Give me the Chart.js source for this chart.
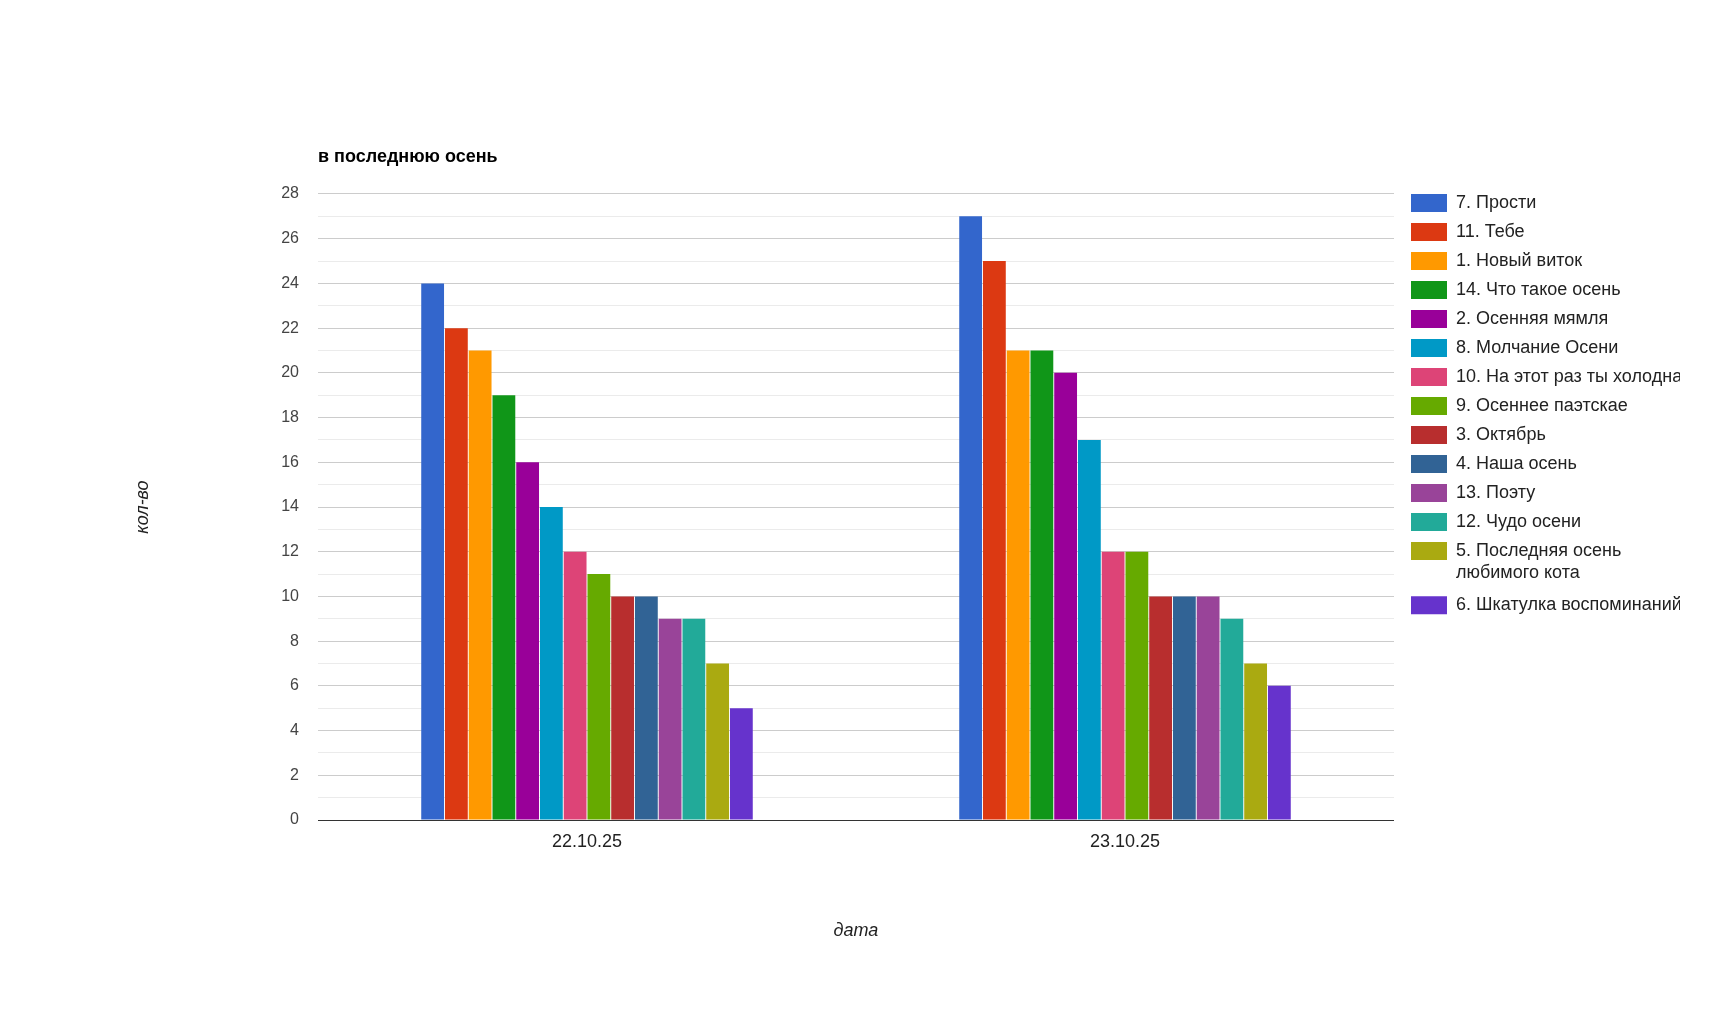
<!DOCTYPE html>
<html>
<head>
<meta charset="utf-8">
<script src="https://cdn.jsdelivr.net/npm/chart.js@4.4.1/dist/chart.umd.min.js"></script>
<style>
  html, body { margin: 0; padding: 0; background: #fff; }
  #wrap { width: 1711px; height: 1014px; }
</style>
</head>
<body>
<div id="wrap"><canvas id="chart" width="1711" height="1014"></canvas></div>
<script>
// categories on the x axis
const dates = ["22.10.25", "23.10.25"];

// one series per song, in legend order
const songs = [
  "7. Прости",
  "11. Тебе",
  "1. Новый виток",
  "14. Что такое осень",
  "2. Осенняя мямля",
  "8. Молчание Осени",
  "10. На этот раз ты холодна",
  "9. Осеннее паэтскае",
  "3. Октябрь",
  "4. Наша осень",
  "13. Поэту",
  "12. Чудо осени",
  "5. Последняя осень любимого кота",
  "6. Шкатулка воспоминаний",
];

// votes per song for each date
const day1 = [24, 22, 21, 19, 16, 14, 12, 11, 10, 10, 9, 9, 7, 5];
const day2 = [27, 25, 21, 21, 20, 17, 12, 12, 10, 10, 10, 9, 7, 6];

const colors = [
  "#3366cc", "#dc3912", "#ff9900", "#109618", "#990099", "#0099c6", "#dd4477",
  "#66aa00", "#b82e2e", "#316395", "#994499", "#22aa99", "#aaaa11", "#6633cc",
];

// y axis range
const yMin = 0;
const yMax = 28;
const yLabelStep = 2;

Chart.defaults.font.family = '"Liberation Sans", Arial, sans-serif';

// wrap long legend labels like the original does
const wrapLabel = (text, maxChars) => {
  if (text.length <= maxChars) return text;
  const lines = [];
  let line = "";
  for (const word of text.split(" ")) {
    const next = line ? line + " " + word : word;
    if (next.length > maxChars && line) {
      lines.push(line);
      line = word;
    } else {
      line = next;
    }
  }
  lines.push(line);
  return lines;
};

const datasets = songs.map((name, i) => ({
  label: name,
  data: [day1[i], day2[i]],
  backgroundColor: colors[i],
  borderWidth: 0,
  categoryPercentage: 0.618,
  barPercentage: 0.96,
}));

new Chart(document.getElementById("chart"), {
  type: "bar",
  data: { labels: dates, datasets: datasets },
  options: {
    responsive: false,
    animation: false,
    layout: { padding: { left: 0, right: 31, top: 0, bottom: 0 } },
    plugins: {
      tooltip: { enabled: false },
      title: {
        display: true,
        text: "в последнюю осень",
        align: "start",
        fullSize: false,
        color: "#000",
        font: { size: 18, weight: "bold" },
        padding: { top: 146.2, bottom: 26.2 },
      },
      legend: {
        position: "right",
        align: "start",
        title: {
          display: true,
          text: " ",
          font: { size: 10, lineHeight: 1 },
          padding: { top: 0, bottom: 173 },
        },
        labels: {
          boxWidth: 36,
          boxHeight: 18,
          padding: 11,
          color: "#222",
          font: { size: 18 },
          generateLabels: (chart) => {
            const items = Chart.defaults.plugins.legend.labels.generateLabels(chart);
            items.forEach((it) => { it.text = wrapLabel(it.text, 26); });
            return items;
          },
        },
      },
    },
    scales: {
      x: {
        grid: { display: false },
        border: { display: false },
        ticks: { color: "#222", font: { size: 18 }, padding: 3 },
        title: {
          display: true,
          text: "дата",
          color: "#222",
          font: { size: 18, style: "italic" },
          padding: { top: 0, bottom: 72 },
        },
        afterFit: (scale) => { scale.height = 194; },
      },
      y: {
        min: yMin,
        max: yMax,
        ticks: {
          stepSize: 1,
          autoSkip: false,
          padding: 19,
          color: "#444",
          font: { size: 16 },
          callback: (v) => (v % yLabelStep === 0 ? v : ""),
        },
        grid: {
          drawTicks: false,
          color: (ctx) => ctx.tick.value === 0 ? "#333333" : (ctx.tick.value % 2 ? "#ebebeb" : "#cccccc"),
        },
        border: { display: false },
        title: {
          display: true,
          text: "кол-во",
          color: "#222",
          font: { size: 18, style: "italic" },
          padding: { top: 132, bottom: 0 },
        },
        afterFit: (scale) => { scale.width = 318; },
      },
      // empty spacer between plot and legend
      gap: {
        type: "linear",
        position: "right",
        display: true,
        grid: { display: false },
        ticks: { display: false },
        border: { display: false },
        afterFit: (scale) => { scale.width = 6; },
      },
    },
  },
});
</script>
</body>
</html>
